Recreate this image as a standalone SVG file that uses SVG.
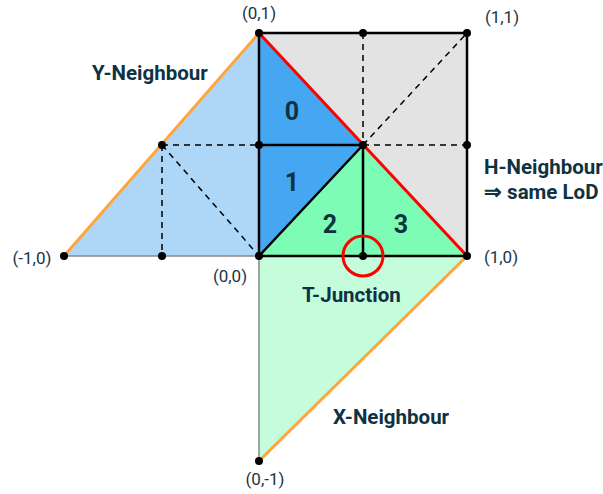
<svg xmlns="http://www.w3.org/2000/svg" width="603" height="494" viewBox="0 0 603 494">
<style>
.lbl{font-family:Roboto,"Liberation Sans",sans-serif;font-weight:bold;font-size:20.5px;fill:#0f3242}
.num{font-family:Roboto,"Liberation Sans",sans-serif;font-weight:bold;font-size:25px;fill:#0f3242;text-anchor:middle}
.co{font-family:Roboto,"Liberation Sans",sans-serif;font-size:17px;fill:#1c3444;text-anchor:middle}
.solid{stroke:#000;stroke-width:2.5;fill:none;stroke-linecap:round}
.dash{stroke:#000;stroke-width:1.5;fill:none;stroke-dasharray:6,5}
.thin{stroke:#888;stroke-width:1.5;fill:none}
.orange{stroke:#ffa53a;stroke-width:3;fill:none}
.dot{fill:#000}
</style>
<g id="y-neighbour">
<polygon points="64,256 259,33 259,256" fill="#aed6f7"/>
</g>
<g id="x-neighbour">
<polygon points="259,256 467,256 259,461" fill="#c4fcdc"/>
</g>
<g id="h-neighbour">
<rect x="259" y="33" width="208" height="223" fill="#e3e3e3"/>
</g>
<g id="tri0"><polygon points="259,33 363,145 259,145" fill="#45a7f1"/></g>
<g id="tri1"><polygon points="259,145 363,145 259,256" fill="#45a7f1"/></g>
<g id="tri2"><polygon points="259,256 363,145 363,256" fill="#7dfcb5"/></g>
<g id="tri3"><polygon points="363,145 467,256 363,256" fill="#7dfcb5"/></g>
<g id="connectors">
<line class="dash" x1="162" y1="145" x2="259" y2="145"/>
<line class="dash" x1="162" y1="145" x2="162" y2="256"/>
<line class="dash" x1="162" y1="145" x2="259" y2="256"/>
<line class="dash" x1="363" y1="33" x2="363" y2="145"/>
<line class="dash" x1="363" y1="145" x2="467" y2="145"/>
<line class="dash" x1="363" y1="145" x2="467" y2="33"/>
<line class="thin" x1="64" y1="256" x2="259" y2="256"/>
<line class="thin" x1="259" y1="256" x2="259" y2="461"/>
<line class="orange" x1="64" y1="256" x2="259" y2="33"/>
<line class="orange" x1="467" y1="256" x2="259" y2="461"/>
<rect class="solid" x="259" y="33" width="208" height="223"/>
<line class="solid" x1="259" y1="145" x2="363" y2="145"/>
<line class="solid" x1="259" y1="256" x2="363" y2="145"/>
<line class="solid" x1="363" y1="145" x2="363" y2="256"/>
<line x1="259" y1="33" x2="467" y2="256" stroke="#ff0000" stroke-width="3"/>
<circle cx="363" cy="256" r="20" fill="none" stroke="#ff0000" stroke-width="3"/>
</g>
<g id="points">
<circle class="dot" cx="259" cy="33" r="4"/>
<circle class="dot" cx="363" cy="33" r="4"/>
<circle class="dot" cx="467" cy="33" r="4"/>
<circle class="dot" cx="259" cy="145" r="4"/>
<circle class="dot" cx="363" cy="145" r="4"/>
<circle class="dot" cx="467" cy="145" r="4"/>
<circle class="dot" cx="259" cy="256" r="4"/>
<circle class="dot" cx="363" cy="256" r="4"/>
<circle class="dot" cx="467" cy="256" r="4"/>
<circle class="dot" cx="64" cy="256" r="4"/>
<circle class="dot" cx="162" cy="145" r="4"/>
<circle class="dot" cx="162" cy="256" r="4"/>
<circle class="dot" cx="259" cy="461" r="4"/>
</g>
<g id="labels">
<text class="num" x="292" y="120">0</text>
<text class="num" x="292" y="191">1</text>
<text class="num" x="330" y="233">2</text>
<text class="num" x="401" y="233">3</text>
<text class="lbl" x="92" y="80">Y-Neighbour</text>
<text class="lbl" x="484" y="174">H-Neighbour</text>
<text class="lbl" x="484" y="199">⇒ same LoD</text>
<text class="lbl" x="302" y="302">T-Junction</text>
<text class="lbl" x="333" y="424">X-Neighbour</text>
<text class="co" x="259" y="19">(0,1)</text>
<text class="co" x="502" y="23">(1,1)</text>
<text class="co" x="32" y="264">(-1,0)</text>
<text class="co" x="230" y="282">(0,0)</text>
<text class="co" x="501" y="263">(1,0)</text>
<text class="co" x="265" y="485">(0,-1)</text>
</g>
</svg>
